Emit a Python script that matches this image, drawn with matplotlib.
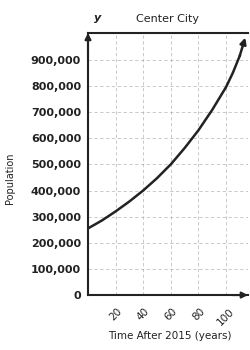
import matplotlib.pyplot as plt

# values
years = [0, 10, 20, 30, 40, 50, 60, 70, 80, 90, 100, 105, 110, 114]
population = [255000, 285000, 320000, 358000, 400000, 447000, 500000, 562000,
              630000, 708000, 795000, 850000, 915000, 985000]

x_ticks = [20, 40, 60, 80, 100]
y_ticks = [0, 100000, 200000, 300000, 400000, 500000, 600000, 700000, 800000, 900000]
y_labels = ['0', '100,000', '200,000', '300,000', '400,000', '500,000',
            '600,000', '700,000', '800,000', '900,000']

fig = plt.figure(figsize=(2.5, 3.5), dpi=100)
ax = fig.add_axes([0.352, 0.157, 0.640, 0.749])

ax.plot(years[:-1], population[:-1], color='#222222', linewidth=1.8)
# arrow at the end of the curve
ax.annotate('', xy=(years[-1], population[-1]), xytext=(years[-2], population[-2]),
            arrowprops=dict(arrowstyle='-|>', color='#222222', lw=1.8,
                            mutation_scale=9, shrinkA=0, shrinkB=0))

ax.set_xlim(0, 116)
ax.set_ylim(0, 1003000)

ax.set_xticks(x_ticks)
ax.set_xticklabels([str(t) for t in x_ticks], rotation=45, ha='center',
                   fontsize=7.5, color='#222222')
ax.set_yticks(y_ticks)
ax.set_yticklabels(y_labels, fontsize=8, fontweight='bold', color='#222222')
ax.tick_params(length=0, pad=5)
ax.tick_params(axis='x', pad=8)

ax.grid(True, linestyle=(0, (4, 3)), linewidth=0.6, color='#999999', alpha=0.6)

for side in ['left', 'bottom', 'top']:
    ax.spines[side].set_linewidth(1.5)
    ax.spines[side].set_color('#222222')
ax.spines['right'].set_visible(False)

# axis arrows
ax.annotate('', xy=(0, 1.0), xytext=(0, 0.9), xycoords='axes fraction',
            arrowprops=dict(arrowstyle='-|>', color='#222222', lw=1.5,
                            mutation_scale=9, shrinkA=0, shrinkB=0))
ax.annotate('', xy=(1.0, 0), xytext=(0.9, 0), xycoords='axes fraction',
            arrowprops=dict(arrowstyle='-|>', color='#222222', lw=1.5,
                            mutation_scale=9, shrinkA=0, shrinkB=0))

ax.set_title('Center City', fontsize=8, color='#222222', pad=8)
fig.text(0.39, 0.94, 'y', fontsize=8, style='italic', fontweight='bold',
         color='#222222', ha='center')
fig.text(0.04, 0.49, 'Population', fontsize=7, rotation=90, color='#222222',
         ha='center', va='center')
fig.text(0.68, 0.04, 'Time After 2015 (years)', fontsize=7.5, color='#222222',
         ha='center', va='center')

fig.savefig('out.png', dpi=100)
